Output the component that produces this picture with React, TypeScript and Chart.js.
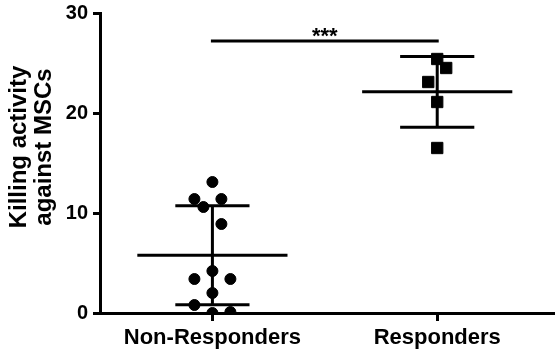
import { useEffect, useRef } from 'react';
import { Chart, registerables } from 'chart.js';

Chart.register(...registerables);

// ---- data ----
const categories = ['Non-Responders', 'Responders'];
const nonResponders = [13.1, 11.4, 11.4, 10.6, 8.9, 4.2, 3.4, 3.4, 2.0, 0.8, 0.0, 0.1];
const nonResponderSlots = [0, -2, 1, -1, 1, 0, -2, 2, 0, -2, 0, 2];
const responders = [25.4, 24.5, 23.1, 21.1, 16.5];
const responderSlots = [0, 1, -1, 0, 0];
const yTicks = [0, 10, 20, 30];
const significanceLevel = 27.2;
const significanceLabel = '***';
const yTitle = ['Killing activity', 'against MSCs'];

// ---- styling constants ----
const FONT = '"Liberation Sans", Arial, Helvetica, sans-serif';
const SLOT_WIDTH = 0.04;
const MEAN_HALF = 0.334;
const CAP_HALF = 0.165;
const LINE_W = 3;

function mean(a: number[]) {
  return a.reduce((s, v) => s + v, 0) / a.length;
}
function sd(a: number[]) {
  const m = mean(a);
  return Math.sqrt(a.reduce((s, v) => s + (v - m) * (v - m), 0) / (a.length - 1));
}

function seg(x1: number, y1: number, x2: number, y2: number, cap = 'butt') {
  return {
    type: 'scatter' as const,
    data: [
      { x: x1, y: y1 },
      { x: x2, y: y2 },
    ],
    showLine: true,
    borderColor: '#000',
    borderWidth: LINE_W,
    borderCapStyle: cap,
    pointRadius: 0,
    pointHoverRadius: 0,
    order: 2,
  };
}

function summaryLines(values: number[], cat: number) {
  const m = mean(values);
  const s = sd(values);
  return [
    seg(cat - MEAN_HALF, m, cat + MEAN_HALF, m),
    seg(cat, m - s, cat, m + s),
    seg(cat - CAP_HALF, m + s, cat + CAP_HALF, m + s),
    seg(cat - CAP_HALF, m - s, cat + CAP_HALF, m - s),
  ];
}

const yTitlePlugin = {
  id: 'yTitlePlugin',
  afterDraw(chart: any) {
    const { ctx, chartArea } = chart;
    const cy = (chartArea.top + chartArea.bottom) / 2 - 16;
    ctx.save();
    ctx.font = `bold 24px ${FONT}`;
    ctx.fillStyle = '#000';
    ctx.textAlign = 'center';
    ctx.textBaseline = 'alphabetic';
    ctx.translate(0, cy);
    ctx.rotate(-Math.PI / 2);
    ctx.fillText(yTitle[0], 0, 26);
    ctx.fillText(yTitle[1], 0, 51);
    ctx.restore();
  },
};

const starsPlugin = {
  id: 'starsPlugin',
  afterDraw(chart: any) {
    const { ctx } = chart;
    const xs = chart.scales.x;
    const ys = chart.scales.y;
    const cx = (xs.getPixelForValue(0) + xs.getPixelForValue(1)) / 2;
    const targetY = ys.getPixelForValue(significanceLevel) - 8.5;
    ctx.save();
    ctx.font = `bold 22px ${FONT}`;
    ctx.fillStyle = '#000';
    ctx.textAlign = 'center';
    ctx.textBaseline = 'alphabetic';
    const m = ctx.measureText(significanceLabel);
    const asc = m.actualBoundingBoxAscent;
    const desc = m.actualBoundingBoxDescent;
    const baseline = targetY + (asc - desc) / 2;
    ctx.fillText(significanceLabel, cx, baseline);
    ctx.restore();
  },
};

export default function App() {
  const ref = useRef<HTMLCanvasElement | null>(null);

  useEffect(() => {
    document.body.style.margin = '0';
    const canvas = ref.current;
    if (!canvas) return;

    const datasets: any[] = [
      {
        type: 'scatter',
        label: categories[0],
        data: nonResponders.map((v, i) => ({ x: 0 + nonResponderSlots[i] * SLOT_WIDTH, y: v })),
        pointStyle: 'circle',
        pointRadius: 5.5,
        pointBorderWidth: 1,
        backgroundColor: '#000',
        borderColor: '#000',
        order: 1,
      },
      {
        type: 'scatter',
        label: categories[1],
        data: responders.map((v, i) => ({ x: 1 + responderSlots[i] * SLOT_WIDTH, y: v })),
        pointStyle: 'rect',
        pointRadius: 8,
        pointBorderWidth: 1,
        backgroundColor: '#000',
        borderColor: '#000',
        order: 1,
      },
      ...summaryLines(nonResponders, 0),
      ...summaryLines(responders, 1),
      seg(0, significanceLevel, 1, significanceLevel, 'square'),
    ];

    const chart = new Chart(canvas, {
      type: 'scatter',
      data: { datasets },
      options: {
        responsive: false,
        animation: false,
        devicePixelRatio: 1,
        layout: { autoPadding: false, padding: { top: 13, right: 3, left: 0, bottom: 0 } },
        plugins: {
          legend: { display: false },
          tooltip: { enabled: false },
          title: { display: false },
        },
        scales: {
          x: {
            type: 'linear',
            min: -0.5,
            max: 1.515,
            afterBuildTicks: (scale: any) => {
              scale.ticks = categories.map((_, i) => ({ value: i }));
            },
            afterFit: (scale: any) => {
              scale.height = 39;
              scale.paddingLeft = 0;
              scale.paddingRight = 0;
              scale.paddingTop = 0;
              scale.paddingBottom = 0;
            },
            ticks: {
              callback: (v: any) => categories[v as number] ?? '',
              color: '#000',
              font: { family: FONT, size: 22, weight: 'bold' },
              padding: 4,
              maxRotation: 0,
              autoSkip: false,
            },
            grid: {
              display: true,
              drawOnChartArea: false,
              drawTicks: true,
              tickLength: 8,
              color: '#000',
              lineWidth: LINE_W,
            },
            border: { display: true, color: '#000', width: LINE_W },
          },
          y: {
            type: 'linear',
            min: 0,
            max: 30,
            afterBuildTicks: (scale: any) => {
              scale.ticks = yTicks.map((v) => ({ value: v }));
            },
            afterFit: (scale: any) => {
              scale.width = 100;
              scale.paddingLeft = 0;
              scale.paddingRight = 0;
              scale.paddingTop = 0;
              scale.paddingBottom = 0;
            },
            ticks: {
              color: '#000',
              font: { family: FONT, size: 20, weight: 'bold' },
              padding: 5,
            },
            grid: {
              display: true,
              drawOnChartArea: false,
              drawTicks: true,
              tickLength: 7,
              color: '#000',
              lineWidth: LINE_W,
            },
            border: { display: true, color: '#000', width: LINE_W },
          },
        },
      } as any,
      plugins: [yTitlePlugin, starsPlugin],
    });

    return () => chart.destroy();
  }, []);

  return (
    <div style={{ width: 556, height: 352 }}>
      <canvas ref={ref} width={556} height={352} style={{ display: 'block' }} />
    </div>
  );
}
